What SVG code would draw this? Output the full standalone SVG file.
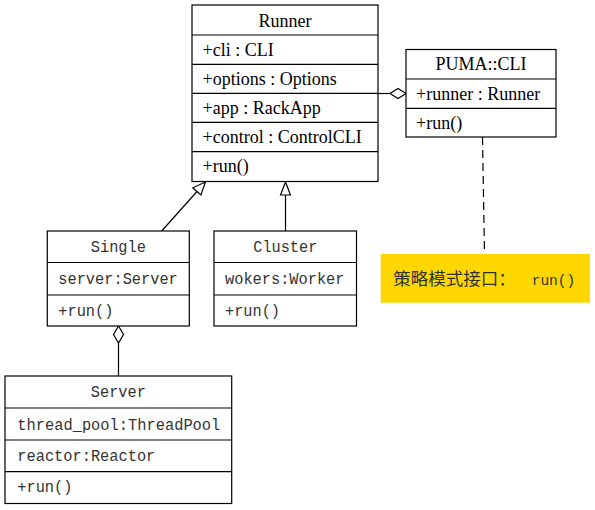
<svg xmlns="http://www.w3.org/2000/svg" width="595" height="510" viewBox="0 0 595 510">
<style>
.box{fill:#fff;stroke:#000;stroke-width:1.2}
.sep{stroke:#000;stroke-width:1.2}
.serif{font-family:"Liberation Serif","Times New Roman",serif;font-size:18px;fill:#000}
.mono{font-family:"Liberation Mono","Courier New",monospace;font-size:16px;fill:#333}
.edge{fill:none;stroke:#000;stroke-width:1.2}
.hollow{fill:#fff;stroke:#000;stroke-width:1.2}
</style>
<rect width="595" height="510" fill="#fff"/>
<g id="connectors">
  <path class="edge" d="M378,93.5 L390,93.5"/>
  <path class="hollow" d="M406,93.5 L398,88.5 L390,93.5 L398,98.5 Z"/>
  <path class="edge" d="M161.7,231 L197,191.5"/>
  <path class="hollow" d="M205.5,182 L192.8,187.8 L200.9,195 Z"/>
  <path class="edge" d="M285.5,231 L285.5,195"/>
  <path class="hollow" d="M285.5,182 L280.5,195 L290.5,195 Z"/>
  <path class="hollow" d="M118.5,326 L113.5,334.5 L118.5,343 L123.5,334.5 Z"/>
  <path class="edge" d="M118.5,343 L118.5,376"/>
  <path class="edge" d="M482.5,137 L484.5,254" stroke-dasharray="8,5"/>
</g>
<g id="runner">
  <rect class="box" x="192" y="5" width="186" height="176.5"/>
  <line class="sep" x1="192" y1="35" x2="378" y2="35"/>
  <line class="sep" x1="192" y1="64.3" x2="378" y2="64.3"/>
  <line class="sep" x1="192" y1="93.3" x2="378" y2="93.3"/>
  <line class="sep" x1="192" y1="122.3" x2="378" y2="122.3"/>
  <line class="sep" x1="192" y1="151.7" x2="378" y2="151.7"/>
  <text class="serif" x="285" y="26.5" text-anchor="middle">Runner</text>
  <text class="serif" x="202.5" y="55.5">+cli : CLI</text>
  <text class="serif" x="202.5" y="84.5">+options : Options</text>
  <text class="serif" x="202.5" y="113.5">+app : RackApp</text>
  <text class="serif" x="202.5" y="142.5">+control : ControlCLI</text>
  <text class="serif" x="202.5" y="171.5">+run()</text>
</g>
<g id="puma-cli">
  <rect class="box" x="406" y="49.5" width="150" height="87.5"/>
  <line class="sep" x1="406" y1="79" x2="556" y2="79"/>
  <line class="sep" x1="406" y1="108.3" x2="556" y2="108.3"/>
  <text class="serif" x="481" y="70" text-anchor="middle">PUMA::CLI</text>
  <text class="serif" x="416" y="100">+runner : Runner</text>
  <text class="serif" x="416" y="129">+run()</text>
</g>
<g id="single">
  <rect class="box" x="47.3" y="231" width="142" height="95"/>
  <line class="sep" x1="47.3" y1="262.5" x2="189.3" y2="262.5"/>
  <line class="sep" x1="47.3" y1="295" x2="189.3" y2="295"/>
  <text class="mono" x="118.3" y="252" text-anchor="middle" textLength="55" lengthAdjust="spacingAndGlyphs">Single</text>
  <text class="mono" x="58.3" y="284" textLength="119.5" lengthAdjust="spacingAndGlyphs">server:Server</text>
  <text class="mono" x="58.3" y="315.5" textLength="55" lengthAdjust="spacingAndGlyphs">+run()</text>
</g>
<g id="cluster">
  <rect class="box" x="214" y="231" width="142.5" height="95"/>
  <line class="sep" x1="214" y1="262.5" x2="356.5" y2="262.5"/>
  <line class="sep" x1="214" y1="295" x2="356.5" y2="295"/>
  <text class="mono" x="285.3" y="252" text-anchor="middle" textLength="64" lengthAdjust="spacingAndGlyphs">Cluster</text>
  <text class="mono" x="225" y="284" textLength="119.5" lengthAdjust="spacingAndGlyphs">wokers:Worker</text>
  <text class="mono" x="225" y="315.5" textLength="55" lengthAdjust="spacingAndGlyphs">+run()</text>
</g>
<g id="server">
  <rect class="box" x="5" y="376" width="226.7" height="127.5"/>
  <line class="sep" x1="5" y1="408" x2="231.7" y2="408"/>
  <line class="sep" x1="5" y1="440" x2="231.7" y2="440"/>
  <line class="sep" x1="5" y1="471.7" x2="231.7" y2="471.7"/>
  <text class="mono" x="118.3" y="397" text-anchor="middle" textLength="55" lengthAdjust="spacingAndGlyphs">Server</text>
  <text class="mono" x="17.3" y="429.5" textLength="203" lengthAdjust="spacingAndGlyphs">thread_pool:ThreadPool</text>
  <text class="mono" x="17.3" y="461" textLength="138" lengthAdjust="spacingAndGlyphs">reactor:Reactor</text>
  <text class="mono" x="17.3" y="492" textLength="55" lengthAdjust="spacingAndGlyphs">+run()</text>
</g>
<g id="note">
  <rect x="380.7" y="254" width="209.3" height="48.7" fill="#FFD700"/>
  <text y="284.5" fill="#333"><tspan x="393.3" font-family="'Noto Sans CJK SC',sans-serif" font-size="17.5px">策略模式接口： </tspan><tspan x="531.7" font-family="'Liberation Mono',monospace" font-size="14.5px">run()</tspan></text>
</g>
</svg>
